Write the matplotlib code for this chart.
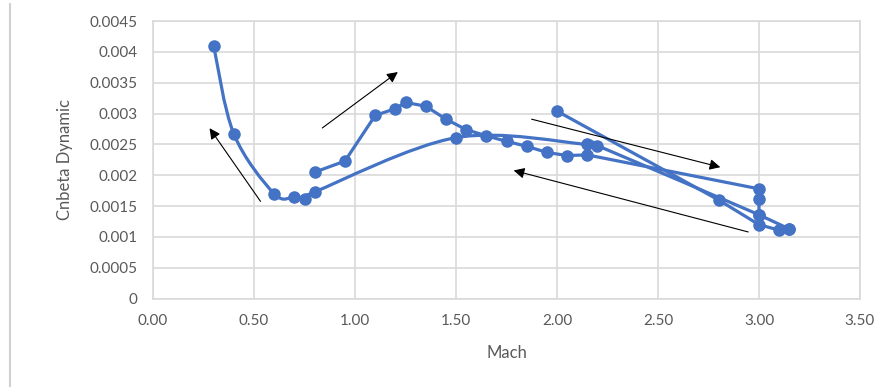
import numpy as np
import matplotlib
matplotlib.use("Agg")
import matplotlib.pyplot as plt
from matplotlib.path import Path
from matplotlib.patches import PathPatch
from matplotlib.lines import Line2D

# outbound branch (upper hump), then over to Mach 3
mach_out = [0.80, 0.95, 1.10, 1.20, 1.25, 1.35, 1.45, 1.55, 1.65, 1.75, 1.85, 1.95, 2.05, 2.15, 3.00, 3.00, 3.00, 3.15]
cnb_out = [0.00205, 0.00223, 0.00297, 0.00308, 0.00318, 0.00312, 0.00291, 0.00274, 0.00264, 0.00255, 0.00247, 0.00237, 0.00232, 0.00233, 0.00178, 0.00162, 0.00136, 0.00113]

# second run starting at Mach 2
mach_b = [2.00, 2.80, 3.00, 3.10, 3.15]
cnb_b = [0.00304, 0.00160, 0.00120, 0.00111, 0.00113]

# return branch back down to low Mach
mach_ret = [3.00, 2.20, 2.15, 1.50, 0.80, 0.75, 0.70, 0.60, 0.40, 0.30]
cnb_ret = [0.00136, 0.00248, 0.00250, 0.00261, 0.00173, 0.00162, 0.00165, 0.00170, 0.00267, 0.00410]

# (x, y, smoothed line?)
series = [(mach_out, cnb_out, False), (mach_b, cnb_b, False), (mach_ret, cnb_ret, True)]

# annotation arrows (tail -> head)
arrows = [((0.54, 0.00154), (0.272, 0.00280)),
          ((0.827, 0.00274), (1.223, 0.00370)),
          ((1.861, 0.00292), (2.822, 0.00212)),
          ((2.96, 0.00107), (1.772, 0.00209))]

blue = "#4472C4"
grid = "#D9D9D9"
txt = "#595959"


def smooth_path(xs, ys):
    # excel-like smoothed scatter line (catmull-rom as bezier)
    pts = np.column_stack([xs, ys])
    n = len(pts)
    verts = [pts[0]]
    codes = [Path.MOVETO]
    for i in range(n - 1):
        p0 = pts[max(i - 1, 0)]
        p1 = pts[i]
        p2 = pts[i + 1]
        p3 = pts[min(i + 2, n - 1)]
        verts += [p1 + (p2 - p0) / 6, p2 - (p3 - p1) / 6, p2]
        codes += [Path.CURVE4] * 3
    return Path(verts, codes)


plt.rcParams['font.family'] = ['Lato', 'DejaVu Sans']

fig = plt.figure(figsize=(8.96, 3.87), dpi=100)
ax = fig.add_axes([0.1708, 0.2282, 0.789, 0.7175])

for xs, ys, sm in series:
    if sm:
        ax.add_patch(PathPatch(smooth_path(xs, ys), fill=False, edgecolor=blue, lw=2.3, zorder=3))
    else:
        ax.plot(xs, ys, '-', color=blue, lw=2.3, zorder=3)
    ax.plot(xs, ys, 'o', color=blue, ms=8, zorder=4)

for (x0, y0), (x1, y1) in arrows:
    ax.annotate("", xy=(x1, y1), xytext=(x0, y0),
                arrowprops=dict(arrowstyle='-|>', color='black', lw=0.8, mutation_scale=16), zorder=5)

ax.set_xlim(0, 3.5)
ax.set_ylim(0, 0.0045)
ax.set_xticks(np.arange(0, 3.51, 0.5))
ax.set_xticklabels([f"{v:.2f}" for v in np.arange(0, 3.51, 0.5)])
ax.set_yticks(np.arange(0, 0.00451, 0.0005))
ax.set_yticklabels(["0", "0.0005", "0.001", "0.0015", "0.002", "0.0025", "0.003", "0.0035", "0.004", "0.0045"])
ax.grid(True, color=grid, lw=1.2)
ax.set_axisbelow(True)
for s in ax.spines.values():
    s.set_color(grid)
    s.set_linewidth(1.2)
ax.tick_params(length=0, labelsize=11, colors=txt, pad=11)
ax.set_xlabel("Mach", fontsize=12, color=txt, labelpad=12)
ax.set_ylabel("Cnbeta Dynamic", fontsize=12, color=txt, labelpad=12)

# light frame line at the left edge of the picture
fig.add_artist(Line2D([0.011, 0.011], [0.0, 0.99], color="#D0D0D0", lw=1.5))

fig.savefig("out.png", dpi=100)
